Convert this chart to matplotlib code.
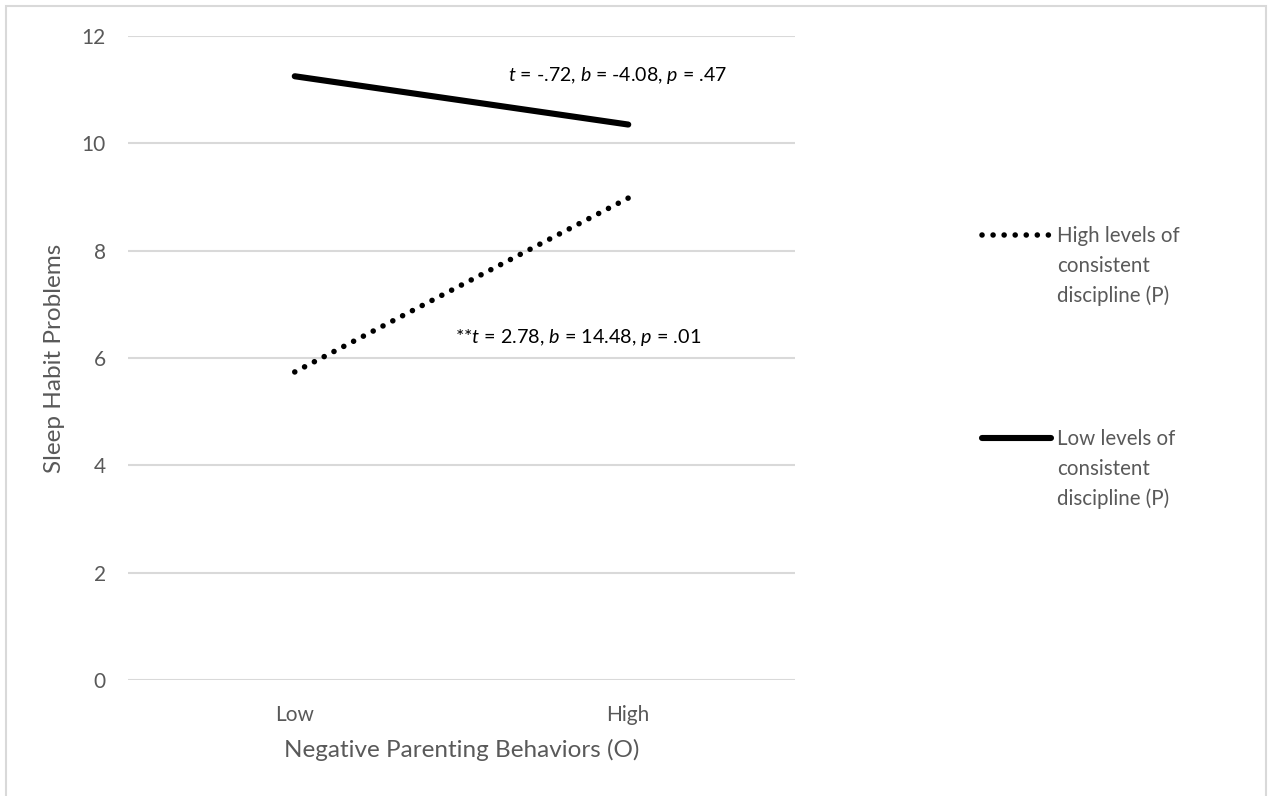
import matplotlib
matplotlib.use("Agg")
import matplotlib.pyplot as plt
from matplotlib.lines import Line2D
from matplotlib.patches import Rectangle

categories = ["Low", "High"]
high_consistent = [5.74, 8.98]
low_consistent = [11.25, 10.35]
series_labels = ["High levels of\nconsistent\ndiscipline (P)", "Low levels of\nconsistent\ndiscipline (P)"]
yticks = [0, 2, 4, 6, 8, 10, 12]

plt.rcParams['font.family'] = ['Lato', 'DejaVu Sans']
plt.rcParams['mathtext.fontset'] = 'custom'
plt.rcParams['mathtext.rm'] = 'Lato'
plt.rcParams['mathtext.it'] = 'Lato:italic'

gray = '#595959'
W, H = 1270, 796
fig = plt.figure(figsize=(12.7, 7.96), dpi=100)
ax = fig.add_axes([128 / W, 1 - 680 / H, (795 - 128) / W, (680 - 36) / H])

x = [0, 1]
dot_style = dict(color='black', lw=4.0, linestyle=(0, (0.01, 1.98)), dash_capstyle='round')
solid_style = dict(color='black', lw=4.4, solid_capstyle='round')
ax.plot(x, high_consistent, **dot_style)
ax.plot(x, low_consistent, **solid_style)

ax.set_xlim(-0.5, 1.5)
ax.set_ylim(0, 12)
ax.set_yticks(yticks)
ax.set_xticks(x)
ax.set_xticklabels(categories)
ax.grid(axis='y', color='#d9d9d9', lw=1.5)
ax.set_axisbelow(True)
for s in ax.spines.values():
    s.set_visible(False)
ax.tick_params(axis='both', length=0, labelsize=15, labelcolor=gray)
ax.tick_params(axis='y', pad=16)
ax.tick_params(axis='x', pad=18)
ax.set_ylabel("Sleep Habit Problems", fontsize=17.5, color=gray, labelpad=12)
ax.set_xlabel("Negative Parenting Behaviors (O)", fontsize=17.5, color=gray, labelpad=10)

ax.text(617 / W, 1 - 75 / H, r"$t$ = -.72, $b$ = -4.08, $p$ = .47", transform=fig.transFigure,
        ha='center', va='center', fontsize=14, color='black')
ax.text(578 / W, 1 - 338 / H, r"**$t$ = 2.78, $b$ = 14.48, $p$ = .01", transform=fig.transFigure,
        ha='center', va='center', fontsize=14.2, color='black')

# legend drawn manually
for (yl, style, lab) in [(235, dot_style, series_labels[0]), (438, solid_style, series_labels[1])]:
    fig.add_artist(Line2D([982 / W, 1051 / W], [1 - yl / H, 1 - yl / H], transform=fig.transFigure, **style))
    fig.text(1057 / W, 1 - (yl - 9) / H, lab, ha='left', va='top', fontsize=14.8, color=gray, linespacing=1.61)

fig.add_artist(Rectangle((6 / W, -0.05), (1266 - 6) / W, 1.05 - 6 / H, transform=fig.transFigure,
                         fill=False, edgecolor='#d9d9d9', lw=1.5, clip_on=False))

fig.savefig("out.png", dpi=100, facecolor='white')
